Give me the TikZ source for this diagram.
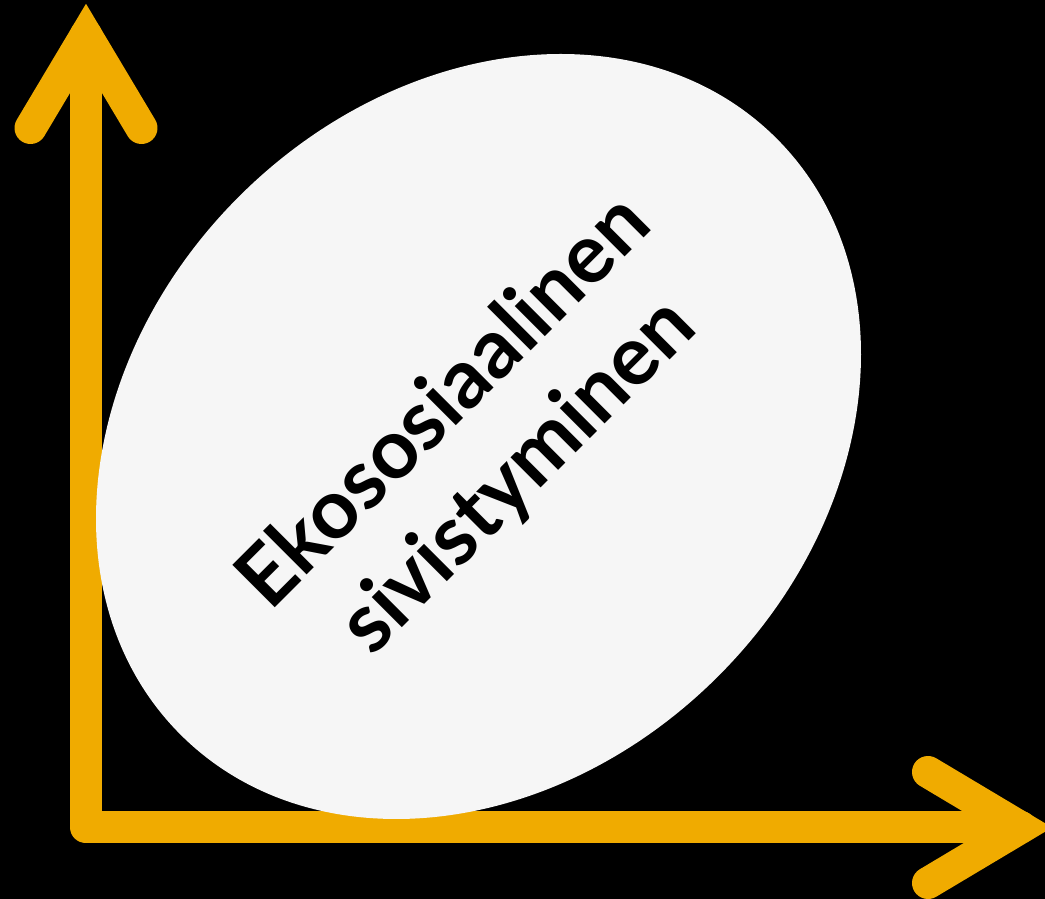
\documentclass[tikz,border=0pt]{standalone}
\usepackage{fontspec}
\setmainfont{Lato}
\usetikzlibrary{shapes.geometric}
\definecolor{axisyellow}{HTML}{F0AB00}
\definecolor{blobwhite}{HTML}{F6F6F6}
\tikzset{
  axisline/.style={draw=axisyellow, line width=32pt, line cap=round, line join=round},
  arrowhead/.style={draw=axisyellow, line width=32pt, line cap=round, line join=miter, miter limit=10},
  blob/.style={ellipse, fill=blobwhite, minimum width=843pt, minimum height=678pt, inner sep=0pt, rotate=45},
  label/.style={align=center, rotate=45, font=\fontsize{83}{104}\selectfont\bfseries, text=black, inner sep=0pt}
}
\begin{document}
\begin{tikzpicture}[x=1pt,y=1pt]
  \fill[black] (0,0) rectangle (1045,899);
  \useasboundingbox (0,0) rectangle (1045,899);
  \coordinate (origin) at (86,71.5);
  \coordinate (vtip) at (86,864);
  \coordinate (vl) at (30.5,771);
  \coordinate (vr) at (141.5,771);
  \coordinate (htip) at (1021,71.5);
  \coordinate (ht) at (928,127);
  \coordinate (hb) at (928,16);
  \draw[axisline] (vtip) -- (origin) -- (htip);
  \draw[arrowhead] (vl) -- (vtip) -- (vr);
  \draw[arrowhead] (ht) -- (htip) -- (hb);
  \node[blob] (blob) at (478.5,462.5) {};
  \node[label] (text) at (482,459) {Ekososiaalinen\\sivistyminen};
\end{tikzpicture}
\end{document}
